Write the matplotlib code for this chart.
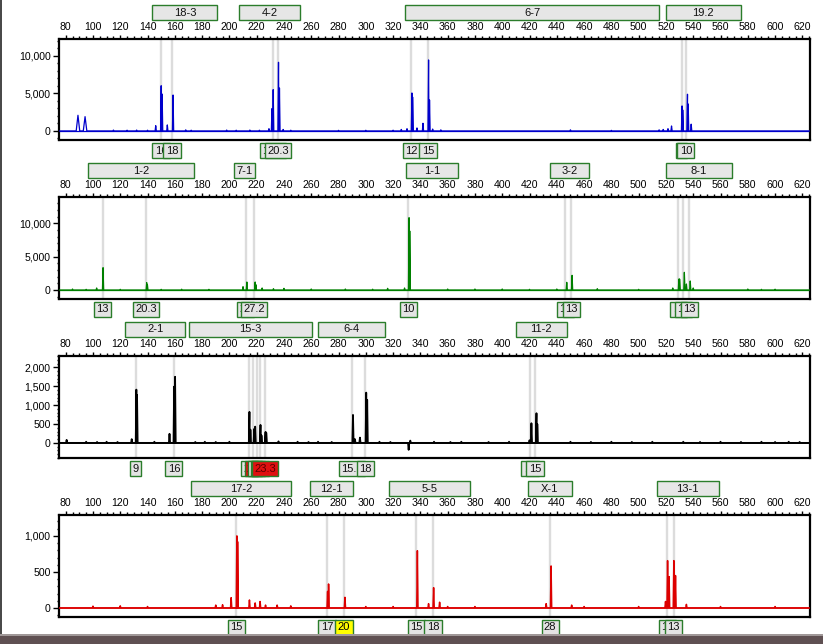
import matplotlib
matplotlib.use("Agg")
import matplotlib.pyplot as plt
import matplotlib.transforms as mtransforms
from matplotlib.patches import Rectangle
from matplotlib.ticker import FuncFormatter, MultipleLocator, FixedLocator, AutoMinorLocator

plt.rcParams['font.family'] = ['Liberation Sans', 'DejaVu Sans']

# ---------------- data ----------------
size_ticks = list(range(80, 621, 20))

# panel 1 (blue)
p1_peak_pos = [89.0, 94.2, 146.0, 150.0, 150.7, 154.5, 158.7, 229.0, 231.2, 232.1, 236.0, 236.7, 239.4,
               330.2, 333.8, 334.3, 337.5, 341.9, 346.0, 346.7, 349.0, 450.0, 521.5, 524.1, 531.8, 532.3,
               535.8, 536.3, 538.5,
               115, 125, 132, 140, 168, 172, 198, 205, 215, 222, 245, 280, 300, 320, 326, 355, 480, 515, 518]
p1_peak_h = [2080, 1900, 700, 6000, 4900, 800, 4770, 300, 2960, 5480, 9110, 5700, 200,
             300, 5040, 4500, 400, 1020, 9420, 4110, 250, 150, 300, 660, 3320, 2790,
             4870, 3580, 900,
             120, 100, 120, 100, 150, 100, 120, 100, 120, 100, 100, 80, 90, 100, 200, 150, 80, 150, 200]
p1_peak_w = [1.3, 1.3]
p1_loci = ["18-3", "4-2", "6-7", "19.2"]
p1_loci_lo = [143.5, 207.4, 328.9, 519.9]
p1_loci_hi = [191.2, 252.1, 514.8, 574.9]
p1_alleles = ["16", "18", "19.3", "20.3", "12", "15", "9", "10"]
p1_allele_pos = [149.9, 158.0, 231.9, 235.8, 333.3, 345.6, 531.5, 534.6]
p1_allele_kind = ["n"] * 8
p1_yticks = [0, 5000, 10000]
p1_ylim = (-1200, 12200)

# panel 2 (green)
p2_peak_pos = [102.7, 107.4, 139.4, 139.9, 210.0, 212.8, 218.9, 219.4, 224.0, 232.3, 316.0, 328.4, 331.7,
               332.2, 447.3, 451.2, 469.7, 525, 529.5, 530.0, 533.5, 535.0, 537.8, 540,
               85, 95, 120, 150, 165, 185, 240, 260, 285, 305, 360, 380, 400, 420, 440, 500, 580, 590, 600]
p2_peak_h = [300, 3350, 1100, 800, 500, 1200, 1200, 800, 300, 200, 250, 300, 10850,
             8850, 1150, 2200, 200, 300, 1650, 1650, 2650, 900, 1350, 300,
             150, 100, 100, 100, 120, 100, 250, 150, 150, 120, 150, 150, 150, 100, 150, 100, 150, 100, 120]
p2_peak_w = []
p2_loci = ["1-2", "7-1", "1-1", "3-2", "8-1"]
p2_loci_lo = [96.6, 203.7, 329.7, 434.8, 519.9]
p2_loci_hi = [173.7, 218.6, 367.3, 463.4, 568.3]
p2_alleles = ["13", "20.3", "26", "27.2", "10", "11", "13", "11", "12", "13"]
p2_allele_pos = [107.2, 138.9, 212.1, 218.2, 331.2, 446.1, 450.5, 529.2, 532.8, 537.0]
p2_allele_kind = ["n"] * 10
p2_yticks = [0, 5000, 10000]
p2_ylim = (-1350, 13950)

# panel 3 (black)
p3_peak_pos = [80.7, 128.4, 131.8, 132.3, 156.1, 159.5, 160.2, 214.7, 215.4, 218.2, 218.9, 222.8, 223.5,
               226.5, 227.0, 236.0, 290.6, 292.0, 295.7, 300.3, 301.0, 331.4, 332.6, 420.0, 421.4,
               425.1, 425.7, 532.7,
               95, 103, 110, 118, 145, 175, 182, 190, 200, 250, 258, 265, 275, 310, 318, 350, 362, 370,
               390, 405, 450, 465, 480, 495, 510, 545, 560, 575, 590, 600, 610, 618]
p3_peak_h = [80, 100, 1410, 1270, 240, 1490, 1750, 820, 350, 370, 430, 475, 200,
             290, 270, 40, 740, 100, 140, 1330, 1140, -185, 60, 70, 520,
             785, 500, 30,
             30, 25, 30, 25, 30, 25, 30, 25, 30, 30, 25, 30, 25, 30, 25, 30, 25, 30,
             25, 30, 30, 25, 30, 25, 30, 25, 30, 25, 30, 25, 30, 25]
p3_peak_w = []
p3_loci = ["2-1", "15-3", "6-4", "11-2"]
p3_loci_lo = [123.7, 170.7, 265.3, 409.9]
p3_loci_hi = [167.8, 260.2, 313.8, 447.3]
p3_alleles = ["9", "16", "20", "21", "22", "23", "23.3", "15.2", "18", "14", "15"]
p3_allele_pos = [131.3, 159.3, 214.5, 217.4, 219.9, 222.5, 226.2, 290.1, 299.6, 420.3, 424.0]
p3_allele_kind = ["n", "n", "n", "r", "n", "r", "r", "n", "n", "n", "n"]
p3_yticks = [0, 500, 1000, 1500, 2000]
p3_ylim = (-400, 2300)

# panel 4 (red)
p4_peak_pos = [201.3, 205.5, 206.0, 214.7, 218.9, 222.5, 226.5, 272.0, 272.7, 284.7, 337.8, 346.0, 349.7,
               354.1, 432.2, 435.8, 450.9, 519.7, 521.2, 522.3, 525.8, 527.0, 535.0,
               100, 120, 140, 190, 195, 235, 245, 300, 320, 360, 380, 460, 500, 560, 600]
p4_peak_h = [143, 1000, 920, 111, 70, 90, 40, 230, 333, 148, 795, 60, 282,
             80, 60, 583, 40, 90, 657, 435, 657, 450, 50,
             25, 30, 20, 40, 45, 40, 30, 20, 20, 20, 20, 20, 20, 20, 20]
p4_peak_w = []
p4_loci = ["17-2", "12-1", "5-5", "X-1", "13-1"]
p4_loci_lo = [172.2, 259.0, 316.7, 418.9, 513.1]
p4_loci_hi = [244.8, 290.8, 376.2, 450.9, 558.8]
p4_alleles = ["15", "17", "20", "15", "18", "28", "12", "13"]
p4_allele_pos = [205.0, 271.5, 284.0, 337.0, 349.3, 435.1, 520.9, 525.6]
p4_allele_kind = ["n", "n", "y", "n", "n", "n", "n", "n"]
p4_yticks = [0, 500, 1000]
p4_ylim = (-125, 1290)

panels = [
    dict(pos=p1_peak_pos, h=p1_peak_h, w=p1_peak_w, loci=p1_loci, lo=p1_loci_lo, hi=p1_loci_hi,
         al=p1_alleles, ap=p1_allele_pos, ak=p1_allele_kind, yt=p1_yticks, yl=p1_ylim,
         color="#0000cc", lw=0.9, top=39, bot=140),
    dict(pos=p2_peak_pos, h=p2_peak_h, w=p2_peak_w, loci=p2_loci, lo=p2_loci_lo, hi=p2_loci_hi,
         al=p2_alleles, ap=p2_allele_pos, ak=p2_allele_kind, yt=p2_yticks, yl=p2_ylim,
         color="#008000", lw=0.9, top=197, bot=299),
    dict(pos=p3_peak_pos, h=p3_peak_h, w=p3_peak_w, loci=p3_loci, lo=p3_loci_lo, hi=p3_loci_hi,
         al=p3_alleles, ap=p3_allele_pos, ak=p3_allele_kind, yt=p3_yticks, yl=p3_ylim,
         color="#000000", lw=1.3, top=356, bot=458),
    dict(pos=p4_peak_pos, h=p4_peak_h, w=p4_peak_w, loci=p4_loci, lo=p4_loci_lo, hi=p4_loci_hi,
         al=p4_alleles, ap=p4_allele_pos, ak=p4_allele_kind, yt=p4_yticks, yl=p4_ylim,
         color="#dd0000", lw=1.1, top=515, bot=617),
]

# ---------------- drawing ----------------
W, H = 823, 644
fig = plt.figure(figsize=(W / 100, H / 100), dpi=100)
fig.patch.set_facecolor("white")

XL, XR = 59, 810
XMIN, XMAX = 75.1, 625.6
px_per_unit = (XR - XL) / (XMAX - XMIN)

green_edge = "#2b7d2b"
fills = {"n": "#e4e4e4", "r": "#e01010", "y": "#ffff00"}
txtcol = {"n": "#111111", "r": "#5a0000", "y": "#000000"}


def build_trace(pos, h, w):
    pts = [(XMIN, 0.0), (XMAX, 0.0)]
    for i, (x, y) in enumerate(zip(pos, h)):
        hw = w[i] if i < len(w) else 0.45
        pts += [(x - hw, 0.0), (x, y), (x + hw, 0.0)]
    pts.sort(key=lambda p: p[0])
    return [p[0] for p in pts], [p[1] for p in pts]


for p in panels:
    hpx = p["bot"] - p["top"]
    ax = fig.add_axes([XL / W, 1 - p["bot"] / H, (XR - XL) / W, hpx / H])
    ax.set_xlim(XMIN, XMAX)
    ax.set_ylim(*p["yl"])
    trans = mtransforms.blended_transform_factory(ax.transData, ax.transAxes)

    # gray allele guide lines
    for x in p["ap"]:
        ax.axvline(x, color="#dcdcdc", lw=1.7, zorder=1)

    xs, ys = build_trace(p["pos"], p["h"], p["w"])
    ax.plot(xs, ys, color=p["color"], lw=p["lw"], zorder=3)
    ax.axhline(0, color=p["color"], lw=p["lw"], zorder=2)

    # axes styling
    for s in ax.spines.values():
        s.set_linewidth(1.6)
        s.set_color("black")
    ax.xaxis.tick_top()
    ax.xaxis.set_major_locator(FixedLocator(size_ticks))
    ax.xaxis.set_minor_locator(MultipleLocator(5))
    ax.tick_params(axis="x", which="major", top=True, bottom=False, direction="out",
                   length=3, width=1, pad=2, labelsize=7.6)
    ax.tick_params(axis="x", which="minor", top=True, bottom=False, direction="out",
                   length=2, width=1)
    ax.set_yticks(p["yt"])
    ax.yaxis.set_minor_locator(AutoMinorLocator(5))
    ax.yaxis.set_major_formatter(FuncFormatter(lambda v, _: f"{int(v):,}"))
    ax.tick_params(axis="y", which="major", left=True, direction="out", length=4, width=1,
                   pad=2, labelsize=7.6)
    ax.tick_params(axis="y", which="minor", left=True, direction="out", length=1.5, width=1)

    # locus boxes above
    y0 = 1 + 19 / hpx
    y1 = 1 + 34 / hpx
    for name, lo, hi in zip(p["loci"], p["lo"], p["hi"]):
        ax.add_patch(Rectangle((lo, y0), hi - lo, y1 - y0, transform=trans, clip_on=False,
                               facecolor="#e6e6e6", edgecolor=green_edge, lw=1.0, zorder=5))
        ax.text((lo + hi) / 2, (y0 + y1) / 2, name, transform=trans, ha="center", va="center",
                fontsize=8, color="#111111", zorder=6, clip_on=False)

    # allele call boxes below
    b0 = -18 / hpx
    b1 = -3 / hpx
    for i, (lab, x, kind) in enumerate(zip(p["al"], p["ap"], p["ak"])):
        ndig = sum(c.isdigit() for c in lab)
        ndot = len(lab) - ndig
        wpx = 5.6 * ndig + 3.0 * ndot + 6
        wd = wpx / px_per_unit
        ax.add_patch(Rectangle((x - wd / 2, b0), wd, b1 - b0, transform=trans, clip_on=False,
                               facecolor=fills[kind], edgecolor=green_edge, lw=1.0, zorder=10 + 2 * i))
        ax.text(x, (b0 + b1) / 2, lab, transform=trans, ha="center", va="center",
                fontsize=8, color=txtcol[kind], zorder=11 + 2 * i, clip_on=False)

# window decorations: left dark edge and bottom border band
fig.patches.append(Rectangle((0, 0), 2 / W, 1, transform=fig.transFigure, facecolor="#4a4a4a",
                             edgecolor="none", zorder=0))
fig.patches.append(Rectangle((0, 0), 1, 8 / H, transform=fig.transFigure, facecolor="#5f5052",
                             edgecolor="none", zorder=0))
fig.patches.append(Rectangle((0, 8 / H), 1, 2 / H, transform=fig.transFigure, facecolor="#a09898",
                             edgecolor="none", zorder=0))

fig.savefig("out.png", dpi=100)
